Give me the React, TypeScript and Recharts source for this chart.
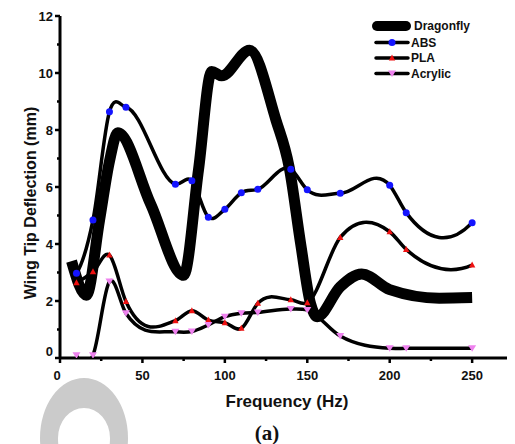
import React from 'react';
import { LineChart, Line, XAxis, YAxis } from 'recharts';

// Frequencies (Hz) of the measured points
const freq = [10, 20, 30, 40, 70, 80, 90, 100, 110, 120, 140, 150, 170, 200, 210, 250];
const absValues = [2.97, 4.84, 8.64, 8.8, 6.1, 6.22, 4.94, 5.22, 5.8, 5.92, 6.62, 5.9, 5.78, 6.06, 5.1, 4.75];
const plaValues = [2.64, 3.03, 3.61, 1.98, 1.31, 1.66, 1.33, 1.24, 1.04, 1.92, 2.04, 1.94, 4.23, 4.43, 3.81, 3.26];
const acrylicValues = [0.1, 0.1, 2.68, 1.57, 0.92, 0.93, 1.16, 1.45, 1.57, 1.6, 1.72, 1.68, 0.77, 0.34, 0.34, 0.34];

// Dragonfly curve (no markers)
const dragonflyFreq = [7, 16, 24, 30, 35, 55, 75, 84, 92, 98, 115, 131, 139, 146, 152, 156, 170, 183, 200, 230, 250];
const dragonflyValues = [3.4, 2.2, 4.84, 6.9, 7.9, 5.4, 2.9, 6.6, 10.05, 9.9, 10.8, 8.35, 6.7, 4.0, 1.9, 1.45, 2.5, 2.95, 2.4, 2.1, 2.12];

const xTicks = [0, 25, 50, 75, 100, 125, 150, 175, 200, 225, 250, 275];
const yTicks = [0, 1, 2, 3, 4, 5, 6, 7, 8, 9, 10, 11, 12];

const seriesNames = ['Dragonfly', 'ABS', 'PLA', 'Acrylic'];
const xTitle = 'Frequency (Hz)';
const yTitle = 'Wing Tip Deflection (mm)';
const caption = '(a)';

const tableData = freq.map((f, i) => ({
  f,
  abs: absValues[i],
  pla: plaValues[i],
  acrylic: acrylicValues[i],
}));
const dragonflyData = dragonflyFreq.map((f, i) => ({ f, dragonfly: dragonflyValues[i] }));

const SANS = '"Liberation Sans", Arial, sans-serif';
const SERIF = '"Liberation Serif", "Times New Roman", serif';
const BLUE = '#1414ff';
const RED = '#ee1111';
const PINK = '#ee82ee';

// Cubic Hermite spline in x with parabolic (Bessel) tangents, as a d3-style curve factory
const besselSpline = (context: any) => {
  let xs: number[] = [];
  let ys: number[] = [];
  return {
    areaStart() {},
    areaEnd() {},
    lineStart() {
      xs = [];
      ys = [];
    },
    point(x: number, y: number) {
      xs.push(+x);
      ys.push(+y);
    },
    lineEnd() {
      const n = xs.length;
      if (n === 0) return;
      context.moveTo(xs[0], ys[0]);
      if (n === 1) return;
      if (n === 2) {
        context.lineTo(xs[1], ys[1]);
        return;
      }
      const h: number[] = [];
      const s: number[] = [];
      for (let i = 0; i < n - 1; i++) {
        h.push(xs[i + 1] - xs[i]);
        s.push((ys[i + 1] - ys[i]) / (xs[i + 1] - xs[i]));
      }
      const t: number[] = new Array(n);
      t[0] = s[0] + ((s[0] - s[1]) * h[0]) / (h[0] + h[1]);
      for (let i = 1; i < n - 1; i++) {
        t[i] = (h[i] * s[i - 1] + h[i - 1] * s[i]) / (h[i - 1] + h[i]);
      }
      t[n - 1] = s[n - 2] + ((s[n - 2] - s[n - 3]) * h[n - 2]) / (h[n - 3] + h[n - 2]);
      for (let i = 0; i < n - 1; i++) {
        const d = h[i] / 3;
        context.bezierCurveTo(xs[i] + d, ys[i] + t[i] * d, xs[i + 1] - d, ys[i + 1] - t[i + 1] * d, xs[i + 1], ys[i + 1]);
      }
    },
  };
};

const XTick = (props: any) => {
  const { x, y, payload } = props;
  const v = payload.value;
  const major = v % 50 === 0;
  return (
    <g>
      <line x1={x} x2={x} y1={y} y2={y + (major ? 5 : 3)} stroke="#000" strokeWidth={2.5} />
      {major && (
        <text
          x={x - (v === 0 ? 3 : 0)}
          y={y + 17}
          textAnchor="middle"
          dominantBaseline="central"
          fontFamily={SANS}
          fontWeight="bold"
          fontSize={13}
          fill="#111"
        >
          {v}
        </text>
      )}
    </g>
  );
};

const YTick = (props: any) => {
  const { x, y, payload } = props;
  const v = payload.value;
  const major = v % 2 === 0;
  return (
    <g>
      <line x1={x} x2={x - (major ? 5 : 3)} y1={y} y2={y} stroke="#000" strokeWidth={2.5} />
      {major && (
        <text
          x={x - 7}
          y={y - (v === 0 ? 7 : 0)}
          textAnchor="end"
          dominantBaseline="central"
          fontFamily={SANS}
          fontWeight="bold"
          fontSize={13}
          fill="#111"
        >
          {v}
        </text>
      )}
    </g>
  );
};

const TriUp = (props: any) => {
  const { cx, cy, index } = props;
  if (cx == null || cy == null) return <g key={index} />;
  return <path key={index} d={`M${cx},${cy - 3.5} L${cx + 3.2},${cy + 2.5} L${cx - 3.2},${cy + 2.5} Z`} fill={RED} />;
};

const TriDown = (props: any) => {
  const { cx, cy, index } = props;
  if (cx == null || cy == null) return <g key={index} />;
  return <path key={index} d={`M${cx - 4},${cy - 3} L${cx + 4},${cy - 3} L${cx},${cy + 3.5} Z`} fill={PINK} />;
};

const Legend = () => {
  const rows = [26, 42.5, 58, 73.5];
  return (
    <g>
      <line x1={377} x2={406} y1={rows[0]} y2={rows[0]} stroke="#000" strokeWidth={10} strokeLinecap="round" />
      <line x1={376} x2={408} y1={rows[1]} y2={rows[1]} stroke="#000" strokeWidth={3.5} strokeLinecap="round" />
      <circle cx={392} cy={rows[1]} r={3.5} fill={BLUE} />
      <line x1={376} x2={408} y1={rows[2]} y2={rows[2]} stroke="#000" strokeWidth={3.5} strokeLinecap="round" />
      {TriUp({ cx: 392, cy: rows[2], index: 'l' })}
      <line x1={376} x2={408} y1={rows[3]} y2={rows[3]} stroke="#000" strokeWidth={3.5} strokeLinecap="round" />
      {TriDown({ cx: 392, cy: rows[3], index: 'l2' })}
      {seriesNames.map((n, i) => (
        <text
          key={n}
          x={i === 0 ? 414 : 411}
          y={rows[i]}
          dominantBaseline="central"
          fontFamily={SANS}
          fontWeight="bold"
          fontSize={12}
          fill="#111"
        >
          {n}
        </text>
      ))}
    </g>
  );
};

export default function App() {
  return (
    <div style={{ position: 'relative', width: 515, height: 444, margin: '-8px 0 0 -8px', overflow: 'hidden', background: '#fff' }}>
      <div
        style={{
          position: 'absolute',
          left: 40,
          top: 378,
          width: 88,
          height: 120,
          borderRadius: '50%',
          border: '18px solid #cbcbcb',
          borderTopWidth: 30,
          boxSizing: 'border-box',
        }}
      />
      <div style={{ position: 'absolute', left: 0, top: 0 }}>
        <LineChart width={515} height={444} margin={{ top: 16, right: 0, left: 0, bottom: 0 }}>
          <XAxis
            dataKey="f"
            type="number"
            domain={[0, 276]}
            ticks={xTicks}
            allowDataOverflow
            height={86}
            tickSize={0}
            tickMargin={0}
            tickLine={false}
            axisLine={{ stroke: '#000', strokeWidth: 3 }}
            tick={<XTick />}
            interval={0}
          />
          <YAxis
            type="number"
            domain={[0, 12]}
            ticks={yTicks}
            allowDataOverflow
            width={60}
            tickSize={0}
            tickMargin={0}
            tickLine={false}
            axisLine={{ stroke: '#000', strokeWidth: 3 }}
            tick={<YTick />}
            interval={0}
          />
          <Line
            data={dragonflyData}
            dataKey="dragonfly"
            type="monotone"
            stroke="#000"
            strokeWidth={11}
            dot={false}
            isAnimationActive={false}
          />
          <Line
            data={tableData}
            dataKey="abs"
            type={besselSpline as any}
            stroke="#000"
            strokeWidth={3.5}
            dot={{ r: 3.5, fill: BLUE, stroke: BLUE, strokeWidth: 0 }}
            isAnimationActive={false}
          />
          <Line
            data={tableData}
            dataKey="pla"
            type={besselSpline as any}
            stroke="#000"
            strokeWidth={3.5}
            dot={TriUp}
            isAnimationActive={false}
          />
          <Line
            data={tableData}
            dataKey="acrylic"
            type={besselSpline as any}
            stroke="#000"
            strokeWidth={3.5}
            dot={TriDown}
            isAnimationActive={false}
          />
        </LineChart>
      </div>
      <svg width={515} height={444} style={{ position: 'absolute', left: 0, top: 0, pointerEvents: 'none' }}>
        <Legend />
        <text
          x={30}
          y={203}
          transform="rotate(-90 30 203)"
          textAnchor="middle"
          dominantBaseline="central"
          fontFamily={SANS}
          fontWeight="bold"
          fontSize={16}
          fill="#111"
        >
          {yTitle}
        </text>
        <text
          x={287}
          y={401}
          textAnchor="middle"
          dominantBaseline="central"
          fontFamily={SANS}
          fontWeight="bold"
          fontSize={17}
          fill="#111"
        >
          {xTitle}
        </text>
        <text
          x={267}
          y={433}
          textAnchor="middle"
          dominantBaseline="central"
          fontFamily={SERIF}
          fontWeight="bold"
          fontSize={21}
          fill="#111"
        >
          {caption}
        </text>
      </svg>
    </div>
  );
}
